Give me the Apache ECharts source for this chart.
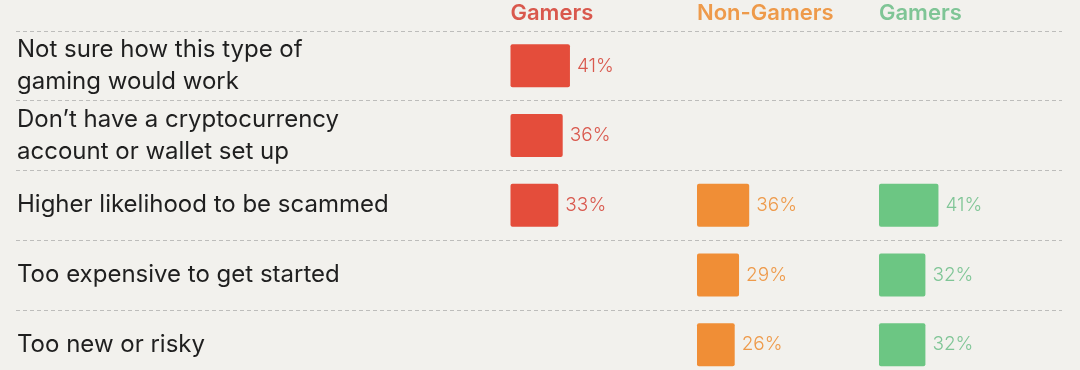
<!DOCTYPE html>
<html>
<head>
<meta charset="utf-8">
<script src="https://cdn.jsdelivr.net/npm/echarts@6/dist/echarts.min.js"></script>
<style>
html,body{margin:0;padding:0;background:#f2f1ed;}
#chart{width:1080px;height:370px;}
</style>
</head>
<body>
<div id="chart"></div>
<script>
const categories = [
  'Not sure how this type of\ngaming would work',
  'Don\u2019t have a cryptocurrency\naccount or wallet set up',
  'Higher likelihood to be scammed',
  'Too expensive to get started',
  'Too new or risky'
];
const columnTitles = ['Gamers', 'Non-Gamers', 'Gamers'];
const gamersRed = [41, 36, 33, null, null];
const nonGamers = [null, null, 36, 29, 26];
const gamersGreen = [null, null, 41, 32, 32];

const FONT = 'Inter';
const barColors = ['#e44d3b', '#f08e36', '#6cc683'];
const labelColors = ['#d9584d', '#ee9a4a', '#7fc596'];
const colLefts = [510.5, 697, 879];
const TOP = 31, H = 348.5, W = 145;

const seriesData = [gamersRed, nonGamers, gamersGreen];

const grids = [{left: 16, top: TOP, width: 1046, height: H, outerBoundsMode: 'none', containLabel: false}];
const xAxes = [{gridIndex: 0, type: 'value', min: 0, max: 100, show: false}];
const yAxes = [{
  gridIndex: 0, type: 'category', data: categories, inverse: true,
  axisLine: {show: false}, axisTick: {show: false},
  splitLine: {show: true, interval: 0, lineStyle: {color: '#bdbdbb', width: 1, type: [4, 3]}},
  axisLabel: {inside: true, margin: 1, interval: 0, align: 'left', color: '#1f1f1f',
    fontFamily: FONT, fontSize: 24, fontWeight: 400, lineHeight: 32}
}];
const series = [];
const titles = [];
colLefts.forEach((l, i) => {
  grids.push({left: l, top: TOP, width: W, height: H, outerBoundsMode: 'none', containLabel: false});
  xAxes.push({gridIndex: i + 1, type: 'value', min: 0, max: 100, show: false});
  yAxes.push({gridIndex: i + 1, type: 'category', data: categories, inverse: true, show: false});
  series.push({
    type: 'bar', xAxisIndex: i + 1, yAxisIndex: i + 1,
    data: seriesData[i], barWidth: 43,
    itemStyle: {color: barColors[i], borderRadius: 2},
    label: {show: true, position: 'right', distance: 7, formatter: '{c}%',
      color: labelColors[i], fontFamily: FONT, fontSize: 19, fontWeight: 300},
    silent: true, animation: false
  });
  titles.push({text: columnTitles[i], left: l, top: 2, padding: 0,
    textStyle: {color: labelColors[i], fontFamily: FONT, fontSize: 22, fontWeight: 600}});
});

const chart = echarts.init(document.getElementById('chart'));
chart.setOption({
  backgroundColor: '#f2f1ed',
  animation: false,
  title: titles,
  grid: grids,
  xAxis: xAxes,
  yAxis: yAxes,
  series: series
});
</script>
</body>
</html>
